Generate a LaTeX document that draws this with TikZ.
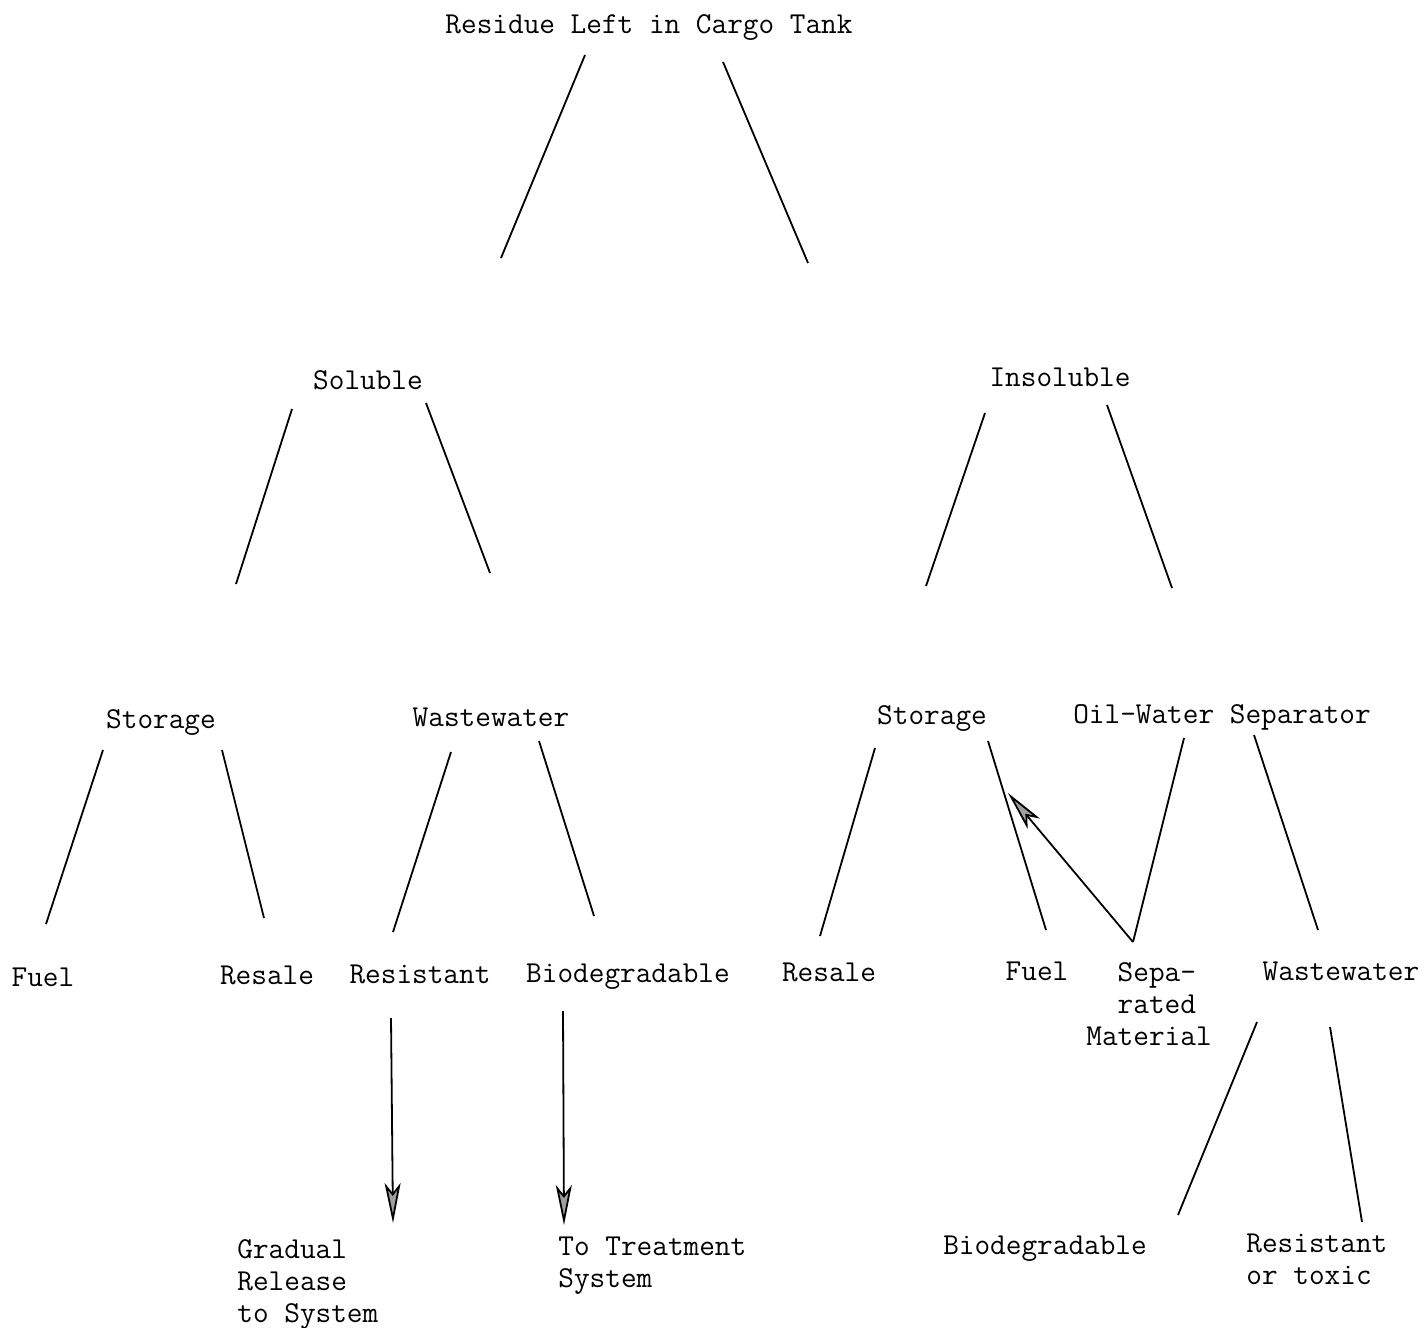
\documentclass[tikz,border=0pt]{standalone}
\usepackage{fontspec}
\usetikzlibrary{arrows.meta}
\begin{document}
\begin{tikzpicture}[x=0.5pt,y=-0.5pt,
 lbl/.style={font=\fontsize{15.2}{16}\selectfont\ttfamily, inner sep=0pt, anchor=base},
 mlbl/.style={font=\fontsize{15.2}{16}\selectfont\ttfamily, inner sep=0pt, anchor=north west, align=left},
 edge/.style={line width=0.9pt},
 arr/.style={line width=0.9pt, -{Stealth[length=20pt,width=8pt,inset=5pt,fill=gray!75]}}]
\useasboundingbox (0,0) rectangle (1427,1327);

% labels
\node[lbl] (root) at (649,34) {Residue Left in Cargo Tank};
\node[lbl] (sol) at (368,389) {Soluble};
\node[lbl] (ins) at (1060,386) {Insoluble};
\node[lbl] (sto1) at (161,728) {Storage};
\node[lbl] (ww1) at (491,726) {Wastewater};
\node[lbl] (sto2) at (932,724) {Storage};
\node[lbl] (ows) at (1222,723) {Oil-Water Separator};
\node[lbl] (fuel1) at (43,986) {Fuel};
\node[lbl] (res1) at (267,984) {Resale};
\node[lbl] (rst) at (420,983) {Resistant};
\node[lbl] (bio1) at (628,982) {Biodegradable};
\node[lbl] (res2) at (829,981) {Resale};
\node[lbl] (fuel2) at (1037,980) {Fuel};
\node[mlbl] (sep) at (1086,962) {\phantom{Ma}Sepa-\\\phantom{Ma}rated\\Material};
\node[lbl] (ww2) at (1341,980) {Wastewater};
\node[mlbl] (grad) at (237,1239) {Gradual\\Release\\to System};
\node[mlbl] (treat) at (558,1237) {To Treatment\\System};
\node[lbl] (bio2) at (1045,1254) {Biodegradable};
\node[mlbl] (tox) at (1246,1234) {Resistant\\or toxic};

% connector end points
\coordinate (r1) at (585,55);   \coordinate (s1) at (501,258);
\coordinate (r2) at (723,62);   \coordinate (i1) at (808,263);
\coordinate (sa) at (292,409);  \coordinate (st1) at (236,584);
\coordinate (sb) at (426,403);  \coordinate (wa1) at (490,573);
\coordinate (ia) at (985,413);  \coordinate (st2) at (926,586);
\coordinate (ib) at (1107,405); \coordinate (ow1) at (1172,588);
\coordinate (ta) at (103,750);  \coordinate (fu1) at (46,924);
\coordinate (tb) at (222,750);  \coordinate (re1) at (264,918);
\coordinate (wa) at (451,752);  \coordinate (rs1) at (393,932);
\coordinate (wb) at (539,741);  \coordinate (bi1) at (594,916);
\coordinate (ua) at (875,748);  \coordinate (re2) at (820,936);
\coordinate (ub) at (988,741);  \coordinate (fu2) at (1046,930);
\coordinate (oa) at (1184,738); \coordinate (se1) at (1133,942);
\coordinate (ob) at (1254,735); \coordinate (wv1) at (1318,930);
\coordinate (sarr) at (1008,793);
\coordinate (ra) at (391,1018); \coordinate (gr1) at (393,1223);
\coordinate (ba) at (563,1011); \coordinate (tr1) at (564,1225);
\coordinate (xa) at (1257,1022); \coordinate (bi2) at (1178,1215);
\coordinate (xb) at (1330,1027); \coordinate (tx1) at (1362,1222);

% connectors
\draw[edge] (r1) -- (s1);
\draw[edge] (r2) -- (i1);
\draw[edge] (sa) -- (st1);
\draw[edge] (sb) -- (wa1);
\draw[edge] (ia) -- (st2);
\draw[edge] (ib) -- (ow1);
\draw[edge] (ta) -- (fu1);
\draw[edge] (tb) -- (re1);
\draw[edge] (wa) -- (rs1);
\draw[edge] (wb) -- (bi1);
\draw[edge] (ua) -- (re2);
\draw[edge] (ub) -- (fu2);
\draw[edge] (oa) -- (se1);
\draw[edge] (ob) -- (wv1);
\draw[arr] (se1) -- (sarr);
\draw[arr] (ra) -- (gr1);
\draw[arr] (ba) -- (tr1);
\draw[edge] (xa) -- (bi2);
\draw[edge] (xb) -- (tx1);
\end{tikzpicture}
\end{document}
